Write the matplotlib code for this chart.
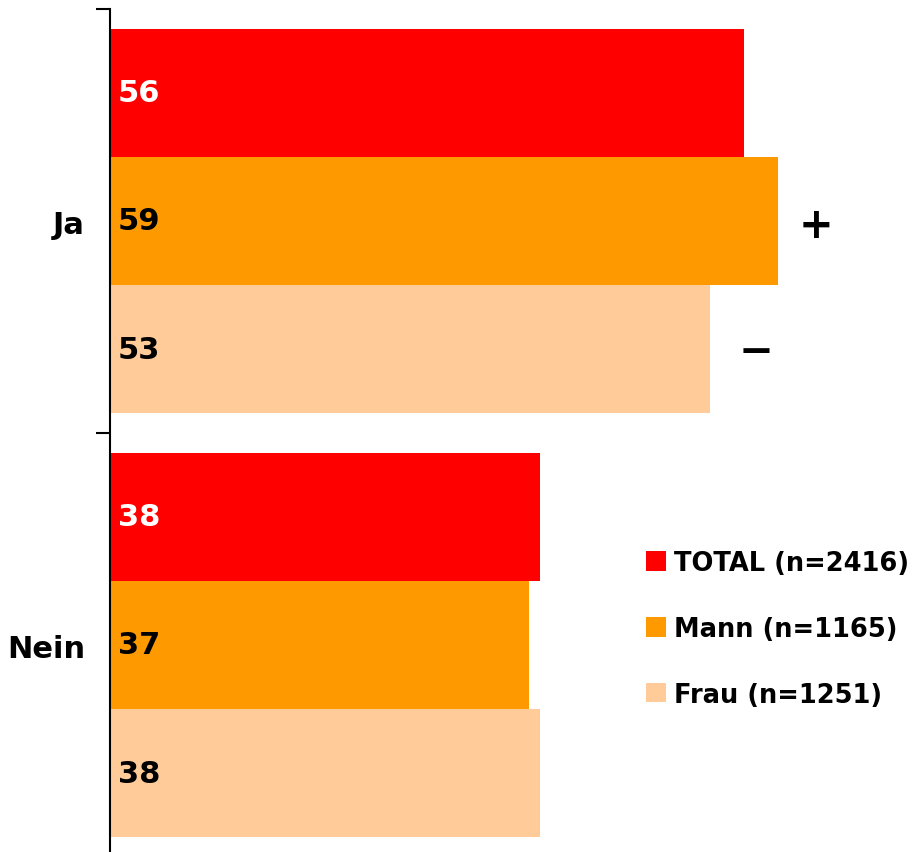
import matplotlib
matplotlib.use('Agg')
import matplotlib.pyplot as plt
from matplotlib.patches import Patch
import numpy as np

# data
categories = ["Ja", "Nein"]
series = ["TOTAL (n=2416)", "Mann (n=1165)", "Frau (n=1251)"]
values = [
    [56, 38],   # TOTAL
    [59, 37],   # Mann
    [53, 38],   # Frau
]
sig_marks = [
    ["", ""],
    ["+", ""],
    ["\u2212", ""],
]
colors = ["#FF0000", "#FF9900", "#FFCC99"]
label_colors = ["white", "black", "black"]
# pixel offset of each significance sign from the bar end
mark_offset = {"+": (38, -4), "\u2212": (46, -2)}

plt.rcParams['font.family'] = ['DejaVu Sans']
plt.rcParams['font.weight'] = 'bold'

fig = plt.figure(figsize=(9.14, 8.53), dpi=100)
ax = fig.add_axes([110 / 914, 0, 804 / 914, 1 - 10 / 853])

y = np.arange(len(categories))
bar_h = 0.302
for i, (name, vals) in enumerate(zip(series, values)):
    pos = y + (i - 1) * bar_h
    ax.barh(pos, vals, height=bar_h, color=colors[i], label=name, linewidth=0)
    for p, v, m in zip(pos, vals, sig_marks[i]):
        ax.annotate(str(v), (0, p), xytext=(8, 0), textcoords='offset pixels',
                    ha='left', va='center', fontsize=22, fontweight='bold',
                    color=label_colors[i])
        if m:
            ax.annotate(m, (v, p), xytext=mark_offset[m], textcoords='offset pixels',
                        ha='center', va='center', fontsize=30, fontweight='bold',
                        color='black')

ax.set_xlim(0, 71)
ax.set_ylim(1.5 - 5 / 424, -0.5)

# category boundaries as major ticks, labels on minor ticks
ax.set_yticks([-0.5, 0.5])
ax.set_yticklabels([])
ax.set_yticks(y, minor=True)
ax.set_yticklabels(categories, minor=True, fontsize=22, fontweight='bold')
ax.tick_params(axis='y', which='major', length=10, width=1.5, direction='out')
ax.tick_params(axis='y', which='minor', length=0, pad=18)
ax.xaxis.set_visible(False)
for s in ['top', 'right', 'bottom']:
    ax.spines[s].set_visible(False)
ax.spines['left'].set_linewidth(1.5)

handles = [Patch(facecolor=c, edgecolor='none') for c in colors]
fig.legend(handles, series, loc='upper left', bbox_to_anchor=(646 / 914, 1 - 551 / 853),
           frameon=False, prop={'size': 18.5, 'weight': 'bold'},
           handlelength=0.78, handleheight=0.78, handletextpad=0.3,
           labelspacing=1.55, borderaxespad=0, borderpad=0)

fig.savefig("out.png", dpi=100)
plt.close(fig)
